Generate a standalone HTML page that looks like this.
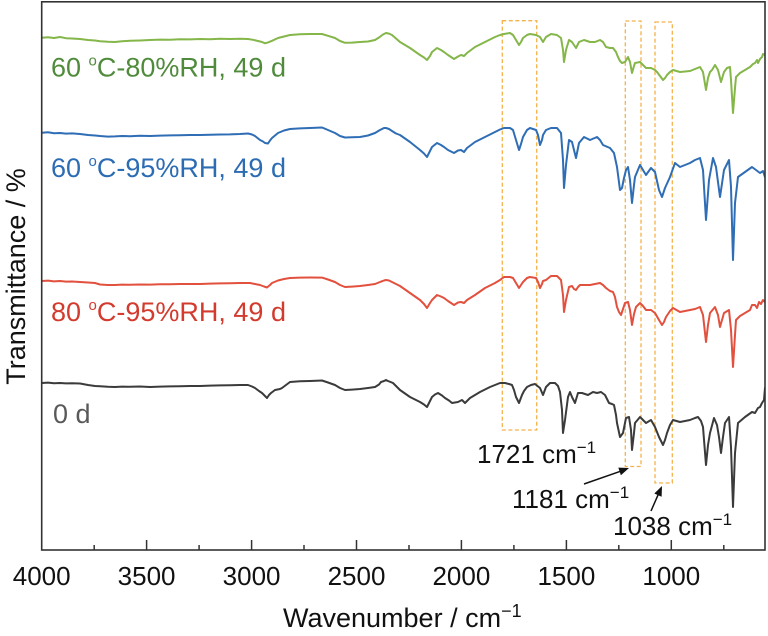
<!DOCTYPE html>
<html>
<head>
<meta charset="utf-8">
<style>
html,body{margin:0;padding:0;background:#fff;}
svg{display:block;}
text{font-family:"Liberation Sans",Arial,sans-serif;}
</style>
</head>
<body>
<svg width="768" height="636" viewBox="0 0 768 636" xmlns="http://www.w3.org/2000/svg">
<rect x="0" y="0" width="768" height="636" fill="#fff"/>
<defs>
<clipPath id="pc"><rect x="42" y="2" width="723" height="548"/></clipPath>
</defs>

<!-- orange dashed boxes -->
<g fill="none" stroke="#f4b24a" stroke-width="1.3" stroke-dasharray="4,2.5">
<rect x="502.3" y="20.7" width="34.4" height="409.3"/>
<rect x="625.3" y="21" width="15.7" height="445.5"/>
<rect x="655" y="22" width="17.3" height="461"/>
</g>

<g clip-path="url(#pc)" fill="none" stroke-width="2" stroke-linejoin="round" stroke-linecap="round">
<!-- green -->
<polyline stroke="#84b64a" points="42,37.7 48,37.2 54,38 60,37 66,38.2 72,38.5 80,39 88,40 95,40.5 100,41.2 108,41.8 115,42 122,41.2 130,40.8 140,40.5 150,40 160,39.6 170,39.8 180,39.2 190,39.4 200,39 210,39.2 220,38.8 230,39 240,38.8 248,39 253,39.8 258,41 262,42 265,43.3 268,42.4 272,40.8 278,38 284,36.5 290,35 300,34.3 310,34 322,34 328,35.8 335,38 340,41 345,42.8 352,42.6 360,42 368,41.5 375,40 379,37.5 383,34.5 386,33 389,33.6 392,35 396,38.5 400,42 405,45 410,48 415,51.5 420,55 424,57.5 427,60 430,56 432,52 437,48 441,50 444,52 448,55 454,59 458,56.5 461,55 464,56 467,53 471,50 475,47 480,44.5 485,42 490,39.5 495,37 500,35 504,34 510,33 513,35 516,40 519,45 521,42 523,38 527,35 530,34 536,35 540,37 543,42 546,37 551,34 557,35 561,38 563,50 564,62 566,50 569,40 572,42 576,48 579,42 584,40 590,42 595,42 600,40 603,42 606,47 610,48 613,48 616,52 618,57 620,61 622,63 625,62 628,57 630,62 632,73 634,66 635,63 640,62 643,65 646,68 651,68 655,70 657,72 660,76 663,80 665,78 667,75 670,72 673,70 680,72 690,71 695,69 700,67 703,72 706,90 708,78 710,72 712,70 715,65 718,70 721,82 724,72 727,68 730,67 731,80 733,113 735,88 736,77 740,73 745,70 750,67 753,64 755,63 757,60 758,63 760,59 762,57 763,54 765,55"/>
<!-- blue -->
<polyline stroke="#2f6db5" points="42,132.7 48,132.3 54,133.2 60,133 66,133.6 72,133.4 80,134 88,135 95,135.5 100,136 108,136.6 115,136.4 122,136 130,136.2 140,135.8 150,136 160,135.6 170,135.4 180,135.2 190,135 200,135 210,134.8 220,134.5 230,134.4 240,134 248,133.5 252,134.5 255,136 260,140 263,141.5 265,143 268,143.5 270,140.5 272,138 278,133 284,130.5 290,129 300,128.4 310,128 322,127.5 328,130 335,133 340,136 345,137.5 352,137.2 360,137 368,135.5 375,133 380,130 384,128 386,128 389,129 392,131 396,133.5 400,135 405,138.5 410,142 415,146 420,150 424,153.5 427,157 430,151 432,147 437,143 441,145 444,147 448,150 454,153 458,150.5 461,150 464,152 467,148 471,145 475,142 480,139.5 485,137 490,134.5 495,132 500,129.5 504,128 510,128 513,130 516,140 519,150 521,144 523,137 527,130 530,128 536,130 538,135 540,145 542,140 543,135 546,130 551,128 557,128 561,133 563,160 564,188 566,165 569,140 572,142 574,150 576,158 578,148 579,143 584,137 590,140 597,137 600,140 603,145 610,148 614,153 617,167 620,190 622,188 624,178 626,170 628,167 630,180 632,203 634,185 635,177 640,165 643,170 646,175 651,168 655,172 659,190 662,197 665,188 670,177 675,163 680,167 690,163 695,160 700,158 703,170 706,220 709,180 713,158 716,167 720,197 724,170 729,160 731,187 733,260 735,203 738,177 745,172 752,167 756,170 760,173 763,171 765,177"/>
<!-- red -->
<polyline stroke="#e2503e" points="42,281 48,280.6 54,281.4 60,281 66,281.6 72,281.5 80,282 88,282.5 95,283 100,284.5 108,285 115,285 122,284.6 130,284.8 140,284.5 150,284.6 160,284.2 170,284.3 180,284 190,284 200,284 210,283.6 220,283.4 230,283.2 240,283 250,283 255,284 260,285 264,286.5 267,287.5 270,285 272,283 278,280.5 284,279 290,278 300,277.6 310,277.5 322,277.6 328,279.5 335,282 340,285 345,287 352,286.6 360,286 368,285 375,284 380,282 384,280.5 386,280 389,280.5 392,282 396,284 400,286 405,289.5 410,293 415,296.5 420,300 424,304 427,308 430,303 432,300 437,295 441,296.5 444,298 448,301 454,305 458,302.5 461,302 464,303 467,300 471,297.5 475,295 480,291.5 485,288 490,285.5 495,283 500,280 504,277 510,277 513,278 516,283 519,288 521,285 523,282 527,278 530,277 536,278 538,282 540,288 542,284 543,281 546,280 551,276 557,276 561,280 563,295 564,312 566,300 569,287 572,286 574,289 576,290 578,287 580,285 584,285 590,285 600,283 603,285 606,288 610,291 613,292 615,297 617,307 619,312 621,315 623,309 625,303 628,302 630,310 632,325 634,314 636,307 640,303 643,306 646,310 651,310 655,313 659,320 662,325 664,322 666,317 670,311 673,308 680,312 690,310 695,309 700,307 703,315 706,342 708,325 710,313 715,307 718,315 720,327 722,320 724,313 729,310 731,330 733,367 735,335 736,320 740,316 745,313 750,310 752,305 755,305 757,308 759,302 761,304 763,300 765,302"/>
<!-- black -->
<polyline stroke="#3b3b3b" points="42,383 48,382.6 54,383.3 60,383 66,383.4 72,383.2 80,383.5 88,385 95,386 100,386.3 108,386.8 115,387 122,386.6 130,386.8 140,386.5 150,387 160,386.6 170,386.4 180,386.2 190,386 200,386 210,385.6 220,385.4 230,385.2 240,385 248,385 252,386.5 255,388 259,391 262,393 265,396 267,398 269,395 271,393 275,390 280,389 282,388 286,385 290,382 300,381.3 310,381 322,380.5 328,382.5 335,385 340,388 345,390 352,389.6 360,389 368,388 375,387 379,384.5 381,382 384,381 386,380 388,381 393,383 396,386 400,390 405,393.5 410,397 415,399.5 420,402 424,404.5 427,407 430,401 432,397 435,394.5 438,393 442,395.5 445,398 449,400.5 452,403 455,402.5 458,402 462,400 465,403 470,398 475,395 480,392 485,389.5 490,387 495,385 500,383 505,383 509,384 512,385 514,390 516,397 519,403 522,395 524,391 527,387 531,385 535,384 540,388 543,395 546,387 550,383 555,383 558,386 560,392 562,410 563,433 565,420 568,397 570,392 572,397 575,403 578,393 582,393 588,395 593,392 597,393 601,392 605,395 609,403 612,404 614,405 616,415 617,423 620,437 623,433 626,418 629,417 631,430 632,450 634,433 635,423 640,417 643,420 646,423 651,420 655,427 659,437 663,445 665,440 667,433 670,425 673,420 680,422 690,420 695,418 698,417 701,421 703,427 706,465 708,445 710,433 714,418 717,425 719,437 721,453 723,437 725,423 729,417 731,447 733,507 735,453 738,423 745,417 752,412 755,413 758,408 760,407 762,403 764,400 765,388"/>
</g>

<!-- axes frame -->
<rect x="41.7" y="1.8" width="723.3" height="548.2" fill="none" stroke="#333" stroke-width="1.6"/>

<!-- ticks -->
<g stroke="#333" stroke-width="1.5">
<line x1="146.6" y1="550" x2="146.6" y2="540"/>
<line x1="251.6" y1="550" x2="251.6" y2="540"/>
<line x1="356.5" y1="550" x2="356.5" y2="540"/>
<line x1="461.4" y1="550" x2="461.4" y2="540"/>
<line x1="566.4" y1="550" x2="566.4" y2="540"/>
<line x1="671.3" y1="550" x2="671.3" y2="540"/>
<line x1="94.2" y1="550" x2="94.2" y2="545"/>
<line x1="199.1" y1="550" x2="199.1" y2="545"/>
<line x1="304.0" y1="550" x2="304.0" y2="545"/>
<line x1="409.0" y1="550" x2="409.0" y2="545"/>
<line x1="513.9" y1="550" x2="513.9" y2="545"/>
<line x1="618.8" y1="550" x2="618.8" y2="545"/>
<line x1="723.8" y1="550" x2="723.8" y2="545"/>
</g>

<!-- tick labels -->
<g font-size="26" fill="#111" text-anchor="middle">
<text x="41.7" y="585">4000</text>
<text x="146.6" y="585">3500</text>
<text x="251.6" y="585">3000</text>
<text x="356.5" y="585">2500</text>
<text x="461.4" y="585">2000</text>
<text x="566.4" y="585">1500</text>
<text x="671.3" y="585">1000</text>
</g>

<!-- axis titles -->
<text x="283" y="627" font-size="27" fill="#111">Wavenumber / cm<tspan dy="-10" font-size="18">−1</tspan></text>
<text transform="translate(25,276.5) rotate(-90)" font-size="27" fill="#111" text-anchor="middle">Transmittance / %</text>

<!-- series labels -->
<text x="51" y="76.7" font-size="27" fill="#4f8b3b">60 <tspan dy="-11" font-size="15">o</tspan><tspan dy="11">C-80%RH, 49 d</tspan></text>
<text x="51" y="177" font-size="27" fill="#2c6cb3">60 <tspan dy="-11" font-size="15">o</tspan><tspan dy="11">C-95%RH, 49 d</tspan></text>
<text x="51" y="321" font-size="27" fill="#d23b2e">80 <tspan dy="-11" font-size="15">o</tspan><tspan dy="11">C-95%RH, 49 d</tspan></text>
<text x="53" y="423" font-size="27" fill="#595959">0 d</text>

<!-- annotations -->
<text x="477" y="463" font-size="26" fill="#111">1721 cm<tspan dy="-10" font-size="17">−1</tspan></text>
<text x="512" y="508" font-size="26" fill="#111">1181 cm<tspan dy="-10" font-size="17">−1</tspan></text>
<text x="613" y="535" font-size="26" fill="#111">1038 cm<tspan dy="-10" font-size="17">−1</tspan></text>

<!-- arrows -->
<line x1="584" y1="484" x2="620" y2="471.4" stroke="#111" stroke-width="1.5"/>
<polygon points="629,468 620.9,475.2 618.3,467.6" fill="#111"/>
<line x1="651" y1="511" x2="658.2" y2="494.6" stroke="#111" stroke-width="1.5"/>
<polygon points="662,486 661.6,496.8 654.3,493.5" fill="#111"/>
</svg>
</body>
</html>
